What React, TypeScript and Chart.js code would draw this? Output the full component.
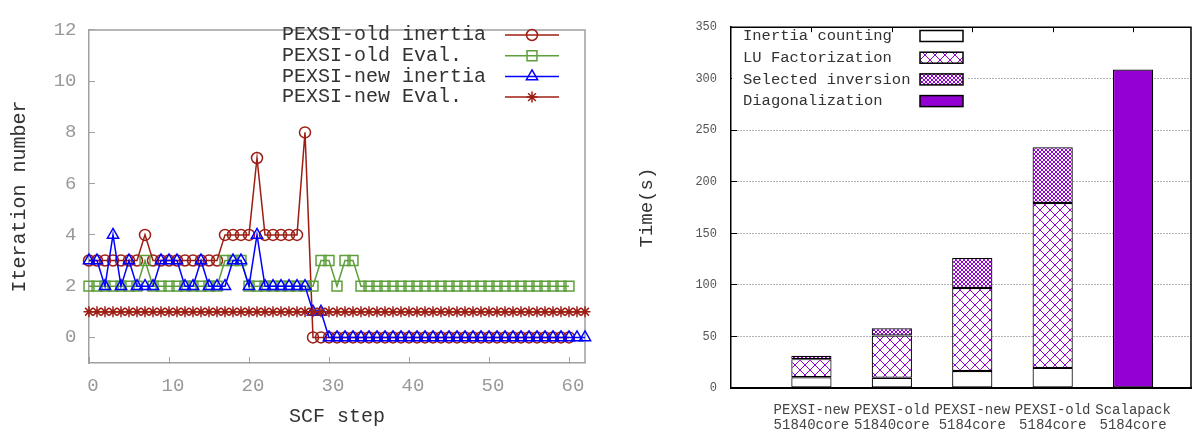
import React, { useEffect, useRef } from 'react';
import { Chart, registerables } from 'chart.js';

Chart.register(...registerables);

const MONO = '"Liberation Mono", "DejaVu Sans Mono", monospace';

// ---------- Left chart data ----------
const xTicksLeft = [0, 10, 20, 30, 40, 50, 60];
const yTicksLeft = [0, 2, 4, 6, 8, 10, 12];
const seriesNames = ['PEXSI-old inertia', 'PEXSI-old Eval.', 'PEXSI-new inertia', 'PEXSI-new Eval.'];

const oldInertia = [
  3, 3, 3, 3, 3, 3, 3, 4, 3, 3,
  3, 3, 3, 3, 3, 3, 3, 4, 4, 4,
  4, 7, 4, 4, 4, 4, 4, 8, 0, 0,
  0, 0, 0, 0, 0, 0, 0, 0, 0, 0,
  0, 0, 0, 0, 0, 0, 0, 0, 0, 0,
  0, 0, 0, 0, 0, 0, 0, 0, 0, 0,
  0,
];
const oldEval = [
  2, 2, 2, 2, 2, 2, 2, 3, 2, 2,
  2, 2, 2, 2, 2, 2, 2, 3, 3, 3,
  2, 2, 2, 2, 2, 2, 2, 2, 2, 3,
  3, 2, 3, 3, 2, 2, 2, 2, 2, 2,
  2, 2, 2, 2, 2, 2, 2, 2, 2, 2,
  2, 2, 2, 2, 2, 2, 2, 2, 2, 2,
  2,
];
const newInertia = [
  3, 3, 2, 4, 2, 3, 2, 2, 2, 3,
  3, 3, 2, 2, 3, 2, 2, 2, 3, 3,
  2, 4, 2, 2, 2, 2, 2, 2, 1, 1,
  0, 0, 0, 0, 0, 0, 0, 0, 0, 0,
  0, 0, 0, 0, 0, 0, 0, 0, 0, 0,
  0, 0, 0, 0, 0, 0, 0, 0, 0, 0,
  0, 0, 0,
];
const newEval = [
  1, 1, 1, 1, 1, 1, 1, 1, 1, 1,
  1, 1, 1, 1, 1, 1, 1, 1, 1, 1,
  1, 1, 1, 1, 1, 1, 1, 1, 1, 1,
  1, 1, 1, 1, 1, 1, 1, 1, 1, 1,
  1, 1, 1, 1, 1, 1, 1, 1, 1, 1,
  1, 1, 1, 1, 1, 1, 1, 1, 1, 1,
  1, 1, 1,
];

// ---------- Right chart data ----------
const catLine1 = ['PEXSI-new', 'PEXSI-old', 'PEXSI-new', 'PEXSI-old', 'Scalapack'];
const catLine2 = ['51840core', '51840core', '5184core', '5184core', '5184core'];
const yTicksRight = [0, 50, 100, 150, 200, 250, 300, 350];
const stackNames = ['Inertia counting', 'LU Factorization', 'Selected inversion', 'Diagonalization'];
const inertiaTime = [10.5, 10, 16.5, 19.5, null];
const luTime = [17.5, 41, 80.5, 160, null];
const selInvTime = [3.2, 7, 29, 54, null];
const diagTime = [null, null, null, null, 309];

const RED = '#9c1e14';
const GREEN = '#5e9f3c';
const BLUE = '#0000ff';
const PURPLE = '#9400d3';

const toXY = (arr: (number | null)[]) => arr.map((v, i) => ({ x: i, y: v }));

function drawMarker(ctx: CanvasRenderingContext2D, style: string, x: number, y: number, r: number, color: string, lw: number) {
  ctx.save();
  ctx.strokeStyle = color;
  ctx.lineWidth = lw;
  ctx.beginPath();
  if (style === 'circle') {
    ctx.arc(x, y, r, 0, Math.PI * 2);
  } else if (style === 'rect') {
    const s = r * Math.SQRT1_2;
    ctx.rect(x - s, y - s, 2 * s, 2 * s);
  } else if (style === 'triangle') {
    for (let k = 0; k < 3; k++) {
      const a = (k * 2 * Math.PI) / 3;
      const px = x + Math.sin(a) * r;
      const py = y - Math.cos(a) * r;
      if (k === 0) ctx.moveTo(px, py); else ctx.lineTo(px, py);
    }
    ctx.closePath();
  } else if (style === 'star') {
    for (let k = 0; k < 4; k++) {
      const a = (k * Math.PI) / 4;
      ctx.moveTo(x - Math.cos(a) * r, y - Math.sin(a) * r);
      ctx.lineTo(x + Math.cos(a) * r, y + Math.sin(a) * r);
    }
  }
  ctx.stroke();
  ctx.restore();
}

function makePattern(size: number, color: string, lw: number) {
  const c = document.createElement('canvas');
  c.width = size;
  c.height = size;
  const g = c.getContext('2d')!;
  g.fillStyle = '#ffffff';
  g.fillRect(0, 0, size, size);
  g.strokeStyle = color;
  g.lineWidth = lw;
  g.beginPath();
  g.moveTo(0, 0);
  g.lineTo(size, size);
  g.moveTo(size, 0);
  g.lineTo(0, size);
  g.stroke();
  return g.createPattern(c, 'repeat')!;
}

export default function App() {
  const leftRef = useRef<HTMLCanvasElement>(null);
  const rightRef = useRef<HTMLCanvasElement>(null);

  useEffect(() => {
    const styles = ['circle', 'rect', 'triangle', 'star'];
    const colors = [RED, GREEN, BLUE, RED];
    const radii = [5.5, 7, 6.5, 5.5];
    const series = [oldInertia, oldEval, newInertia, newEval];
    const orders = [3, 2, 1, 0];

    const leftLegend = {
      id: 'leftLegend',
      afterDraw(chart: any) {
        const ctx = chart.ctx as CanvasRenderingContext2D;
        ctx.save();
        ctx.font = `20px ${MONO}`;
        ctx.fillStyle = '#333';
        ctx.textBaseline = 'middle';
        ctx.textAlign = 'left';
        seriesNames.forEach((name, i) => {
          const y = 35 + i * 20.7;
          ctx.fillText(name, 282, y);
          ctx.strokeStyle = colors[i];
          ctx.lineWidth = 1.5;
          ctx.beginPath();
          ctx.moveTo(505, y);
          ctx.lineTo(559, y);
          ctx.stroke();
          drawMarker(ctx, styles[i], 532, y, radii[i], colors[i], 1.5);
        });
        ctx.restore();
      },
    };

    const leftFrame = {
      id: 'leftFrame',
      beforeDatasetsDraw(chart: any) {
        const { ctx, chartArea: a } = chart;
        ctx.save();
        ctx.strokeStyle = '#a0a0a0';
        ctx.lineWidth = 1.5;
        ctx.beginPath();
        ctx.moveTo(a.left, a.top);
        ctx.lineTo(a.right, a.top);
        ctx.lineTo(a.right, a.bottom);
        ctx.stroke();
        ctx.restore();
      },
    };

    const left = new Chart(leftRef.current!, {
      type: 'line',
      data: {
        datasets: series.map((s, i) => ({
          label: seriesNames[i],
          data: toXY(s),
          borderColor: colors[i],
          borderWidth: 1.5,
          pointStyle: styles[i] as any,
          pointRadius: radii[i],
          pointBorderWidth: 1.5,
          pointBorderColor: colors[i],
          pointBackgroundColor: 'rgba(0,0,0,0)',
          order: orders[i],
          tension: 0,
          clip: false as any,
        })),
      },
      options: {
        animation: false,
        responsive: false,
        maintainAspectRatio: false,
        events: [],
        layout: { padding: { top: 19, right: 15, left: 0, bottom: 0 } },
        plugins: { legend: { display: false }, tooltip: { enabled: false } },
        scales: {
          x: {
            type: 'linear',
            min: 0,
            max: 62,
            afterBuildTicks: (s: any) => { s.ticks = xTicksLeft.map((v) => ({ value: v })); },
            afterFit: (s: any) => { s.height = 66; },
            ticks: { font: { family: MONO, size: 19 }, color: '#999', padding: 17.6, labelOffset: 4, maxRotation: 0, autoSkip: false },
            grid: { display: true, drawOnChartArea: false, drawTicks: true, tickLength: -6, tickColor: '#a0a0a0', tickWidth: 1 },
            border: { display: true, color: '#a0a0a0', width: 1.5 },
            title: { display: true, text: 'SCF step', font: { family: MONO, size: 20 }, color: '#333', padding: { top: 0, bottom: 0 } },
          },
          y: {
            type: 'linear',
            min: -1,
            max: 12,
            afterBuildTicks: (s: any) => { s.ticks = yTicksLeft.map((v) => ({ value: v })); },
            afterFit: (s: any) => { s.width = 89; },
            ticks: { font: { family: MONO, size: 19 }, color: '#999', padding: 18.5 },
            grid: { display: true, drawOnChartArea: false, drawTicks: true, tickLength: -6, tickColor: '#a0a0a0', tickWidth: 1 },
            border: { display: true, color: '#a0a0a0', width: 1.5 },
            title: { display: true, text: 'Iteration number', font: { family: MONO, size: 20 }, color: '#333', padding: { top: 8, bottom: 0 } },
          },
        },
      } as any,
      plugins: [leftFrame, leftLegend],
    });

    // ---------- right chart ----------
    const luPat = makePattern(10, PURPLE, 1);
    const siPat = makePattern(4, PURPLE, 1);
    const fills: any[] = ['#ffffff', luPat, siPat, PURPLE];
    const stacks = [inertiaTime, luTime, selInvTime, diagTime];

    const rightLegend = {
      id: 'rightLegend',
      afterDatasetsDraw(chart: any) {
        const ctx = chart.ctx as CanvasRenderingContext2D;
        const a = chart.chartArea;
        ctx.save();
        ctx.fillStyle = '#ffffff';
        ctx.fillRect(a.left + 1, a.top + 1, 236, 94);
        ctx.font = `15.5px ${MONO}`;
        ctx.fillStyle = '#333';
        ctx.textBaseline = 'middle';
        ctx.textAlign = 'left';
        stackNames.forEach((name, i) => {
          const y = 36 + i * 21.7;
          ctx.fillText(name, 143, y);
          ctx.fillStyle = fills[i];
          ctx.fillRect(320, y - 5.5, 43, 11);
          ctx.strokeStyle = '#000';
          ctx.lineWidth = 1.5;
          ctx.strokeRect(320, y - 5.5, 43, 11);
          ctx.fillStyle = '#333';
        });
        ctx.restore();
      },
      afterDraw(chart: any) {
        const { ctx, chartArea: a } = chart;
        const xs = chart.scales.x;
        ctx.save();
        ctx.strokeStyle = '#000';
        ctx.lineWidth = 1.5;
        ctx.beginPath();
        ctx.moveTo(a.left, a.top);
        ctx.lineTo(a.right, a.top);
        ctx.lineTo(a.right, a.bottom);
        ctx.stroke();
        ctx.lineWidth = 1;
        ctx.beginPath();
        catLine1.forEach((_, i) => {
          const px = Math.round(xs.getPixelForValue(i)) + 0.5;
          ctx.moveTo(px, a.top);
          ctx.lineTo(px, a.top + 5);
        });
        ctx.stroke();
        ctx.restore();
      },
    };

    const right = new Chart(rightRef.current!, {
      type: 'bar',
      data: {
        datasets: stacks.map((s, i) => ({
          label: stackNames[i],
          data: toXY(s),
          backgroundColor: fills[i],
          borderColor: '#000',
          borderWidth: 1.2,
          borderSkipped: false,
          barPercentage: 0.5,
          categoryPercentage: 1,
        })),
      },
      options: {
        animation: false,
        responsive: false,
        maintainAspectRatio: false,
        events: [],
        layout: { padding: { top: 19, right: 10, left: 0, bottom: 0 } },
        plugins: { legend: { display: false }, tooltip: { enabled: false } },
        scales: {
          x: {
            type: 'linear',
            min: -1,
            max: 4.72,
            stacked: true,
            offset: false,
            afterBuildTicks: (s: any) => { s.ticks = catLine1.map((_, i) => ({ value: i })); },
            afterFit: (s: any) => { s.height = 41; },
            ticks: {
              callback: (v: any) => [catLine1[v], catLine2[v]],
              font: { family: MONO, size: 14, lineHeight: 1.07 },
              color: '#444',
              padding: 6.5,
              maxRotation: 0,
              autoSkip: false,
            },
            grid: { display: false },
            border: { display: true, color: '#000', width: 2 },
          },
          y: {
            type: 'linear',
            min: 0,
            max: 350,
            stacked: true,
            afterBuildTicks: (s: any) => { s.ticks = yTicksRight.map((v) => ({ value: v })); },
            afterFit: (s: any) => { s.width = 131; },
            ticks: { font: { family: MONO, size: 12 }, color: '#555', padding: 20 },
            grid: {
              display: true,
              drawOnChartArea: true,
              drawTicks: true,
              tickLength: -6,
              tickColor: '#000',
              tickWidth: 1,
              lineWidth: 1,
              color: (c: any) => (c.tick && (c.tick.value === 0 || c.tick.value === 350) ? 'rgba(0,0,0,0)' : '#666'),
            },
            border: { display: true, color: '#000', width: 1.5, dash: [1, 2] },
            title: { display: true, text: 'Time(s)', font: { family: MONO, size: 19 }, color: '#333', padding: { top: 35.6, bottom: 0 } },
          },
        },
      } as any,
      plugins: [rightLegend],
    });

    return () => {
      left.destroy();
      right.destroy();
    };
  }, []);

  return (
    <div style={{ position: 'fixed', left: 0, top: 0, width: 1201, height: 429, background: '#fff' }}>
      <canvas ref={leftRef} width={600} height={429} style={{ position: 'absolute', left: 0, top: 0 }} />
      <canvas ref={rightRef} width={601} height={429} style={{ position: 'absolute', left: 600, top: 0 }} />
    </div>
  );
}
